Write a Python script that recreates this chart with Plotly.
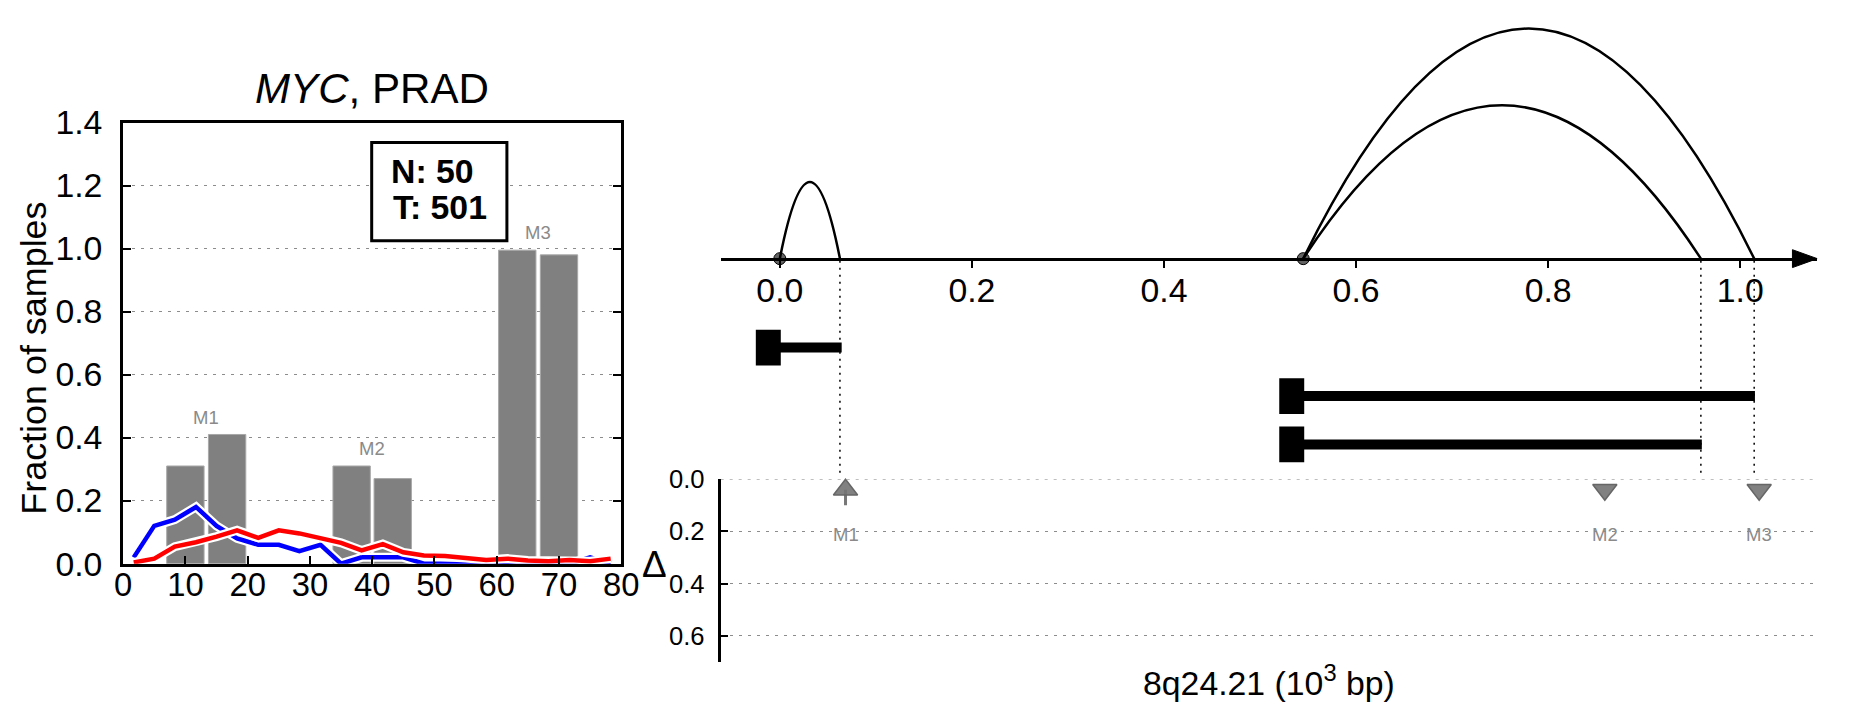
import plotly.graph_objects as go

# ---------------- data ----------------
# left panel: fraction of samples
bin_centers = [1.7, 5.0, 8.3, 11.7, 15.0, 18.3, 21.7, 25.0, 28.3, 31.7, 35.0, 38.3,
               41.7, 45.0, 48.3, 51.7, 55.0, 58.3, 61.7, 65.0, 68.3, 71.7, 75.0, 78.3]
normal_frac = [0.02, 0.12, 0.14, 0.18, 0.12, 0.08, 0.06, 0.06, 0.04, 0.06, 0.0, 0.02,
               0.02, 0.02, 0.0, 0.0, 0.0, 0.0, 0.0, 0.0, 0.0, 0.0, 0.02, 0.0]
tumor_frac = [0.004, 0.016, 0.054, 0.068, 0.086, 0.106, 0.082, 0.106, 0.096, 0.082, 0.066, 0.042,
              0.062, 0.036, 0.026, 0.024, 0.018, 0.012, 0.016, 0.010, 0.008, 0.012, 0.008, 0.016]
bar_x = [10.0, 16.7, 36.7, 43.3, 63.3, 70.0]
bar_h = [0.31, 0.41, 0.31, 0.27, 0.995, 0.98]
bar_group = ["M1", "M1", "M2", "M2", "M3", "M3"]
n_normal = 50
n_tumor = 501
left_xticks = [0, 10, 20, 30, 40, 50, 60, 70, 80]
left_yticks = [0.0, 0.2, 0.4, 0.6, 0.8, 1.0, 1.2, 1.4]

# right panel: junctions (10^3 bp)
junction_start = [0.0, 0.545, 0.545]
junction_end = [0.0626, 0.959, 1.0145]
junction_height = [1, 2, 3]
gene_start = [0.0, 0.545, 0.545]
gene_end = [0.0644, 1.0153, 0.960]
genome_ticks = [0.0, 0.2, 0.4, 0.6, 0.8, 1.0]

motif_names = ["M1", "M2", "M3"]
motif_pos = [0.0684, 0.859, 1.0197]
motif_delta = [0.04, 0.04, 0.04]
motif_symbol = ["triangle-up", "triangle-down", "triangle-down"]
motif_err = [0.06, 0.0, 0.0]
delta_ticks = [0.0, 0.2, 0.4, 0.6]

# ---------------- layout constants (target pixels) ----------------
WIN_W, WIN_H = 1851, 718
OFF = 8                      # default page margin around the figure
W, H = WIN_W - 2 * OFF, WIN_H - 2 * OFF
KX, CX = 0.991, 925.0        # compensation for the photographed scale
KY, CY = 0.952, 359.0
FS = 1 / 0.975

L_X0, L_X1, L_YT, L_YB = 123, 624, 121, 565
R_X0, R_X1 = 724, 1827
G0_PX, G_PXU = 783.5, 966.0
AXIS_Y_PX = 258
ARC_UNIT_PX = 77.2
TOP_BOTTOM_PX = 476
B_YT, B_YB = 480, 664
GENE_ROW_PX = [347.5, 396.3, 445.0]


def tx(p):
    return CX + (p - CX) / KX


def ty(p):
    return CY + (p - CY) / KY


def px(p):
    return (tx(p) - OFF) / W


def py(p):
    return 1 - (ty(p) - OFF) / H


def fs(s):
    return round(s * FS, 1)


xr2 = [(R_X0 - G0_PX) / G_PXU, (R_X1 - G0_PX) / G_PXU]
# y2 spans from figure top to TOP_BOTTOM_PX; 0 lies on the genomic axis
unit_render = ARC_UNIT_PX / KY
yr2 = [-(ty(TOP_BOTTOM_PX) - ty(AXIS_Y_PX)) / unit_render, (ty(AXIS_Y_PX) - OFF) / unit_render]


def y2u(p):
    return -(p - AXIS_Y_PX) / ARC_UNIT_PX


FONT = "Liberation Sans, Arial, sans-serif"
fig = go.Figure()

# ---- left panel ----
fig.add_trace(go.Bar(x=bar_x, y=bar_h, width=6.0, marker=dict(color="#808080", line=dict(color="#a8a8a8", width=1)),
                     xaxis="x", yaxis="y", showlegend=False))
for ys, col in [(normal_frac, "#0000ff"), (tumor_frac, "#ff0000")]:
    fig.add_trace(go.Scatter(x=bin_centers, y=ys, mode="lines", line=dict(color="white", width=9),
                             xaxis="x", yaxis="y", showlegend=False, cliponaxis=True))
    fig.add_trace(go.Scatter(x=bin_centers, y=ys, mode="lines", line=dict(color=col, width=4.5),
                             xaxis="x", yaxis="y", showlegend=False, cliponaxis=True))


def ann(x, y, text, size, color="black", xref="paper", yref="paper", **kw):
    d = dict(x=x, y=y, xref=xref, yref=yref, text=text, showarrow=False,
             xanchor="center", yanchor="middle", font=dict(size=fs(size), color=color, family=FONT))
    d.update(kw)
    return d


annotations = []
for g in motif_names:
    xs = [x for x, gg in zip(bar_x, bar_group) if gg == g]
    hs = [h for h, gg in zip(bar_h, bar_group) if gg == g]
    annotations.append(ann(sum(xs) / len(xs), max(hs) + 0.055, g, 18, "#8a8a8a", "x", "y"))

annotations.append(ann(px((L_X0 + L_X1) / 2), py(87), "<i>MYC</i>, PRAD", 41))
annotations.append(ann(px(33), py(358), "Fraction of samples", 35, textangle=-90))
annotations.append(ann(px(390), py(170), "<b>N: %d</b>" % n_normal, 33, xanchor="left"))
annotations.append(ann(px(392), py(206), "<b>T: %d</b>" % n_tumor, 33, xanchor="left"))

shapes = []
shapes.append(dict(type="rect", xref="paper", yref="paper", x0=px(373), x1=px(509), y0=py(240), y1=py(141),
                   line=dict(color="black", width=3), fillcolor="white", layer="above"))

# ---- right panel: junction arcs ----
for s, e, h in zip(junction_start, junction_end, junction_height):
    m = (s + e) / 2
    shapes.append(dict(type="path", xref="x2", yref="y2",
                       path="M %f,0 Q %f,%f %f,0" % (s, m, 2 * h, e),
                       line=dict(color="black", width=2.5)))
# arrow head at end of axis
ah_len = 25 / G_PXU
ah_half = 9 / ARC_UNIT_PX
shapes.append(dict(type="path", xref="x2", yref="y2",
                   path="M %f,%f L %f,0 L %f,%f Z" % (xr2[1] - ah_len, ah_half, xr2[1], xr2[1] - ah_len, -ah_half),
                   fillcolor="black", line=dict(color="black", width=1)))
# dotted guides
for e in junction_end:
    shapes.append(dict(type="line", xref="x2", yref="paper", x0=e, x1=e, y0=py(AXIS_Y_PX + 2), y1=py(476),
                       line=dict(color="black", width=1.5, dash="2px,5px")))
# gene bars
for s, e, rpx in zip(gene_start, gene_end, GENE_ROW_PX):
    yv = y2u(rpx)
    shapes.append(dict(type="line", xref="x2", yref="y2", x0=s, x1=e, y0=yv, y1=yv,
                       line=dict(color="black", width=10)))
    shapes.append(dict(type="rect", xref="x2", yref="y2", x0=s - 0.025, x1=s + 0.001,
                       y0=yv - 18 / ARC_UNIT_PX, y1=yv + 18 / ARC_UNIT_PX,
                       fillcolor="black", line=dict(color="black", width=0)))
# dotted gridline at delta = 0 (top edge of the bottom panel)
shapes.append(dict(type="line", xref="x3", yref="y3", x0=xr2[0], x1=xr2[1], y0=0, y1=0,
                   line=dict(color="#8c8c8c", width=1, dash="3px,6px")))

dot_x = sorted(set(junction_start))
fig.add_trace(go.Scatter(x=dot_x, y=[0] * len(dot_x), mode="markers", xaxis="x2", yaxis="y2",
                         marker=dict(size=12, color="rgba(70,70,70,0.85)", line=dict(color="black", width=1)),
                         showlegend=False, cliponaxis=False))

# ---- bottom panel: motifs ----
fig.add_trace(go.Scatter(x=motif_pos, y=motif_delta, mode="markers", xaxis="x3", yaxis="y3",
                         marker=dict(symbol=motif_symbol, size=21, color="rgba(115,115,115,0.9)",
                                     line=dict(color="#666666", width=1.5)),
                         error_y=dict(type="data", symmetric=False, array=motif_err, arrayminus=[0] * 3,
                                      color="#777777", thickness=3, width=0),
                         showlegend=False, cliponaxis=False))
for n, x in zip(motif_names, motif_pos):
    annotations.append(ann(x, 0.212, n, 18, "#8a8a8a", "x3", "y3"))

annotations.append(ann(px(657), py(566), "Δ", 36))
annotations.append(ann(px((R_X0 + R_X1) / 2), py(683), "8q24.21 (10<sup>3</sup> bp)", 33))

grid = dict(showgrid=True, gridcolor="#8c8c8c", gridwidth=1, griddash="3px,6px")

fig.update_layout(
    width=W, height=H, margin=dict(l=0, r=0, t=0, b=0),
    paper_bgcolor="white", plot_bgcolor="rgba(0,0,0,0)",
    font=dict(family=FONT, color="black"),
    showlegend=False,
    annotations=annotations, shapes=shapes,
    xaxis=dict(domain=[px(L_X0), px(L_X1)], range=[0, 80], tickvals=left_xticks,
               ticks="inside", ticklen=8, tickwidth=2, tickcolor="black",
               showline=True, linewidth=3, linecolor="black", mirror=True,
               showgrid=False, zeroline=False, tickfont=dict(size=fs(32)), anchor="y",
               ticklabelstandoff=-10),
    yaxis=dict(domain=[py(L_YB), py(L_YT)], range=[0, 1.4], tickvals=left_yticks, tickformat=".1f",
               ticks="inside", ticklen=8, tickwidth=2, tickcolor="black",
               showline=True, linewidth=3, linecolor="black", mirror="ticks",
               zeroline=False, tickfont=dict(size=fs(33)), anchor="x", ticklabelstandoff=11, **grid),
    xaxis2=dict(domain=[px(R_X0), px(R_X1)], range=xr2, tickvals=genome_ticks, tickformat=".1f",
                ticks="outside", ticklen=8, tickwidth=2, tickcolor="black",
                showline=True, linewidth=2.5, linecolor="black", showgrid=False, zeroline=False,
                anchor="free", position=py(AXIS_Y_PX), tickfont=dict(size=fs(33)), ticklabelstandoff=-7),
    yaxis2=dict(domain=[py(TOP_BOTTOM_PX), 1.0], range=yr2, visible=False, anchor="x2"),
    xaxis3=dict(domain=[px(R_X0), px(R_X1)], range=xr2, visible=False, anchor="y3"),
    yaxis3=dict(domain=[py(B_YB), py(B_YT)], range=[0.7, -0.0001], tickvals=delta_ticks, tickformat=".1f",
                ticks="inside", ticklen=7, tickwidth=2, tickcolor="black",
                showline=True, linewidth=3, linecolor="black", zeroline=False,
                tickfont=dict(size=fs(25)), anchor="x3", ticklabelstandoff=8, **grid),
)

fig.write_html("out.html")
